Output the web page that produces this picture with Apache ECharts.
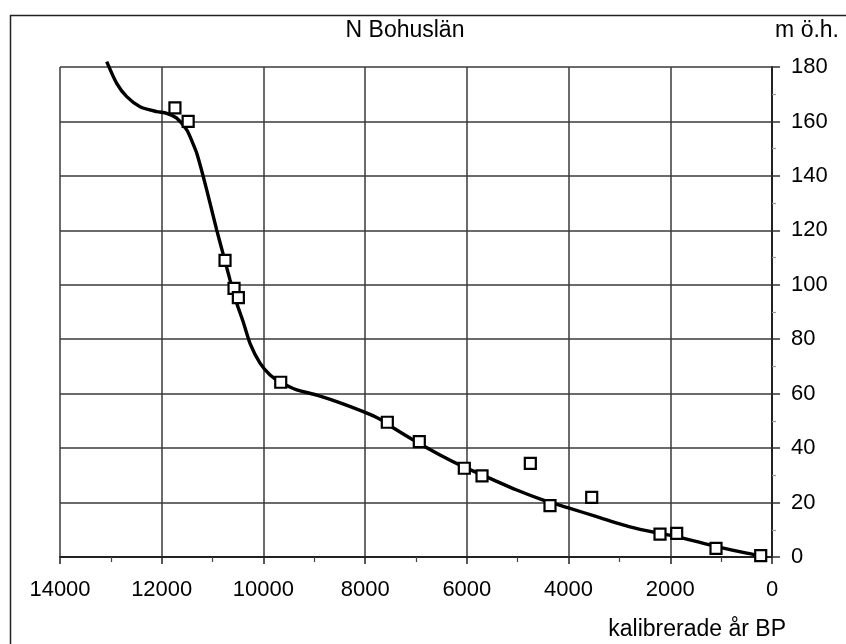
<!DOCTYPE html>
<html>
<head>
<meta charset="utf-8">
<script src="https://cdn.jsdelivr.net/npm/echarts@6/dist/echarts.min.js"></script>
<style>
html,body{margin:0;padding:0;background:#fff;}
#chart{width:846px;height:644px;}
</style>
</head>
<body>
<div id="chart"></div>
<script>
// Observed data points (calibrated years BP, metres above sea level)
const pointYears = [11740, 11480, 10755, 10578, 10493, 9660, 7564, 6935, 6050, 5702, 4752, 4365, 3545, 2202, 1874, 1101, 222];
const pointLevels = [165, 160, 109, 98.7, 95.3, 64.2, 49.5, 42.4, 32.6, 29.8, 34.4, 18.9, 21.9, 8.4, 8.7, 3.2, 0.5];

// Shoreline displacement curve
const curveYears = [13081, 12885, 12688, 12426, 12098, 11901, 11705, 11508, 11400, 11311, 11182, 11050, 10918, 10788, 10657, 10525, 10400, 10264, 10067, 9870, 9660, 9345, 8952, 8559, 8036, 7707, 7450, 7053, 6528, 6069, 5545, 5020, 4497, 3972, 3447, 2792, 2267, 1874, 1087, 497, 104];
const curveLevels = [182, 174, 169.1, 165.4, 163.6, 163, 161.2, 156.9, 152.5, 148.3, 139.7, 130, 120.1, 111, 101.8, 93.2, 86.5, 78.5, 71.2, 66.9, 64.2, 61.4, 59.5, 57.1, 53.4, 50.6, 47.5, 43, 37.5, 33.2, 28.9, 24.6, 20.9, 17.9, 14.8, 11.1, 8.9, 7.5, 3.8, 1.4, 0.1];

const xTicks = [0, 2000, 4000, 6000, 8000, 10000, 12000, 14000];
const yTicks = [0, 20, 40, 60, 80, 100, 120, 140, 160, 180];

const titleText = 'N Bohuslän';
const yUnitText = 'm ö.h.';
const xNameText = 'kalibrerade år BP';

const FONT = '"Liberation Sans", Arial, sans-serif';
const chart = echarts.init(document.getElementById('chart'), null, {renderer: 'canvas'});

const option = {
  animation: false,
  backgroundColor: '#fff',
  grid: {left: 60, right: 74, top: 67, bottom: 87, containLabel: false},
  graphic: [
    {type: 'rect', left: 8, top: 13, shape: {x: 0, y: 0, width: 900, height: 700},
     style: {fill: 'none', stroke: '#222', lineWidth: 1.5}, silent: true, z: -1},
    {type: 'text', x: 405, y: 31, style: {text: titleText, font: '23px ' + FONT, fill: '#000', align: 'center', verticalAlign: 'middle'}},
    {type: 'text', x: 839, y: 31, style: {text: yUnitText, font: '23px ' + FONT, fill: '#000', align: 'right', verticalAlign: 'middle'}},
    {type: 'text', x: 786, y: 630, style: {text: xNameText, font: '23px ' + FONT, fill: '#000', align: 'right', verticalAlign: 'middle'}}
  ],
  xAxis: {
    type: 'value',
    inverse: true,
    min: xTicks[0],
    max: xTicks[xTicks.length - 1],
    interval: xTicks[1] - xTicks[0],
    position: 'bottom',
    axisLine: {show: true, onZero: false, lineStyle: {color: '#222', width: 2}},
    axisTick: {show: true, length: 7, lineStyle: {color: '#222', width: 1.5}},
    minorTick: {show: true, splitNumber: 2, length: 5, lineStyle: {color: '#444', width: 1.2}},
    axisLabel: {margin: 22, fontSize: 22, fontFamily: FONT, color: '#000',
      formatter: v => String(v)},
    splitLine: {show: true, lineStyle: {color: '#3a3a3a', width: 1.5}}
  },
  yAxis: {
    type: 'value',
    position: 'right',
    min: yTicks[0],
    max: yTicks[yTicks.length - 1],
    interval: yTicks[1] - yTicks[0],
    axisLine: {show: true, onZero: false, lineStyle: {color: '#222', width: 2}},
    axisTick: {show: true, length: 8, lineStyle: {color: '#333', width: 1.5}},
    minorTick: {show: true, splitNumber: 2, length: 4, lineStyle: {color: '#999', width: 1.2}},
    axisLabel: {margin: 19, fontSize: 22, fontFamily: FONT, color: '#000'},
    splitLine: {show: true, lineStyle: {color: '#3a3a3a', width: 1.5}}
  },
  series: [
    {
      type: 'line',
      data: curveYears.map((x, i) => [x, curveLevels[i]]),
      showSymbol: false,
      smooth: 0.25,
      clip: false,
      lineStyle: {color: '#000', width: 3.4},
      z: 2
    },
    {
      type: 'scatter',
      data: pointYears.map((x, i) => [x, pointLevels[i]]),
      symbol: 'rect',
      symbolSize: 11,
      itemStyle: {color: '#ffffff', opacity: 1, borderColor: '#000', borderWidth: 2.2},
      z: 3
    }
  ]
};
chart.setOption(option);
</script>
</body>
</html>
